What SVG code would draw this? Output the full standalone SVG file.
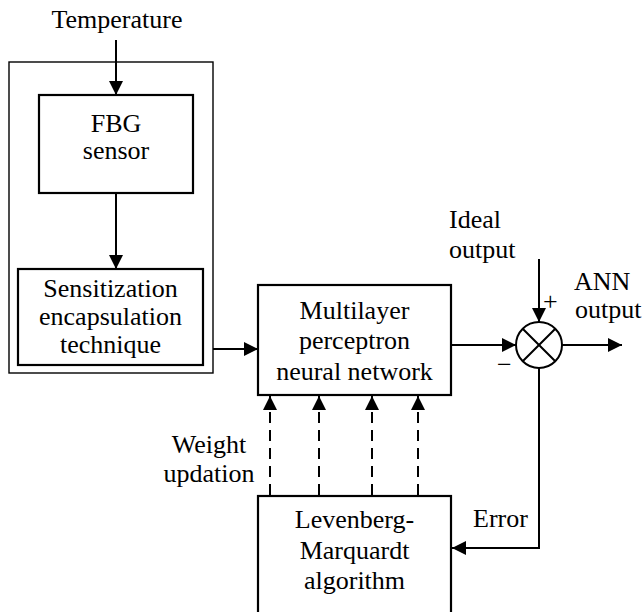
<svg xmlns="http://www.w3.org/2000/svg" width="642" height="612" viewBox="0 0 642 612">
  <style>
    .box { fill: #fff; stroke: #000; stroke-width: 2.2; }
    .frame { fill: none; stroke: #000; stroke-width: 1.4; }
    .ln { fill: none; stroke: #000; stroke-width: 2; }
    .dash { fill: none; stroke: #000; stroke-width: 2; stroke-dasharray: 11 7; }
  </style>
  <defs>
    <marker id="arr" markerUnits="userSpaceOnUse" markerWidth="16" markerHeight="16" viewBox="0 0 16 16" refX="15" refY="8" orient="auto">
      <path d="M1,1 L15,8 L1,15 Z" fill="#000"/>
    </marker>
  </defs>

  <!-- sensor assembly frame -->
  <rect id="frame" class="frame" x="9" y="62" width="204" height="311"/>

  <g font-family="'Liberation Serif', 'Times New Roman', 'DejaVu Serif', serif" font-size="26" fill="#000">
    <g id="temperature" text-anchor="middle">
      <text x="117" y="28">Temperature</text>
    </g>

    <g id="fbg" text-anchor="middle">
      <rect class="box" x="39" y="95" width="154" height="98"/>
      <text x="116" y="132">FBG</text>
      <text x="116" y="159">sensor</text>
    </g>

    <g id="sensitization" text-anchor="middle">
      <rect class="box" x="18" y="269" width="185" height="96"/>
      <text x="110.5" y="297">Sensitization</text>
      <text x="110.5" y="325">encapsulation</text>
      <text x="110.5" y="353">technique</text>
    </g>

    <g id="mlp" text-anchor="middle">
      <rect class="box" x="258" y="285" width="193" height="110"/>
      <text x="354.5" y="319">Multilayer</text>
      <text x="354.5" y="349">perceptron</text>
      <text x="354.5" y="380">neural network</text>
    </g>

    <g id="lm" text-anchor="middle">
      <rect class="box" x="258" y="496" width="193" height="130"/>
      <text x="354.5" y="528">Levenberg-</text>
      <text x="354.5" y="559">Marquardt</text>
      <text x="354.5" y="589">algorithm</text>
    </g>

    <g id="sum">
      <circle cx="539" cy="345" r="23" fill="#fff" stroke="#000" stroke-width="2"/>
      <path class="ln" d="M522.7,328.7 L555.3,361.3 M555.3,328.7 L522.7,361.3"/>
      <text x="543" y="310">+</text>
      <text x="497" y="373">−</text>
    </g>

    <g id="labels">
      <text x="449" y="228">Ideal</text>
      <text x="449" y="258">output</text>
      <text x="574" y="290">ANN</text>
      <text x="575" y="318">output</text>
      <text x="209" y="453" text-anchor="middle">Weight</text>
      <text x="209" y="482" text-anchor="middle">updation</text>
      <text x="473" y="527">Error</text>
    </g>
  </g>

  <g id="connectors">
    <path class="ln" d="M116,40 V95" marker-end="url(#arr)"/>
    <path class="ln" d="M116,193 V269" marker-end="url(#arr)"/>
    <path class="ln" d="M213,349 H258" marker-end="url(#arr)"/>
    <path class="ln" d="M451,345 H516" marker-end="url(#arr)"/>
    <path class="ln" d="M539,259 V322" marker-end="url(#arr)"/>
    <path class="ln" d="M562,345 H622" marker-end="url(#arr)"/>
    <path class="ln" d="M539,368 V548 H452" marker-end="url(#arr)"/>
    <path class="dash" d="M270,495 V396" marker-end="url(#arr)"/>
    <path class="dash" d="M319,495 V396" marker-end="url(#arr)"/>
    <path class="dash" d="M372,495 V396" marker-end="url(#arr)"/>
    <path class="dash" d="M418,495 V396" marker-end="url(#arr)"/>
  </g>
</svg>
